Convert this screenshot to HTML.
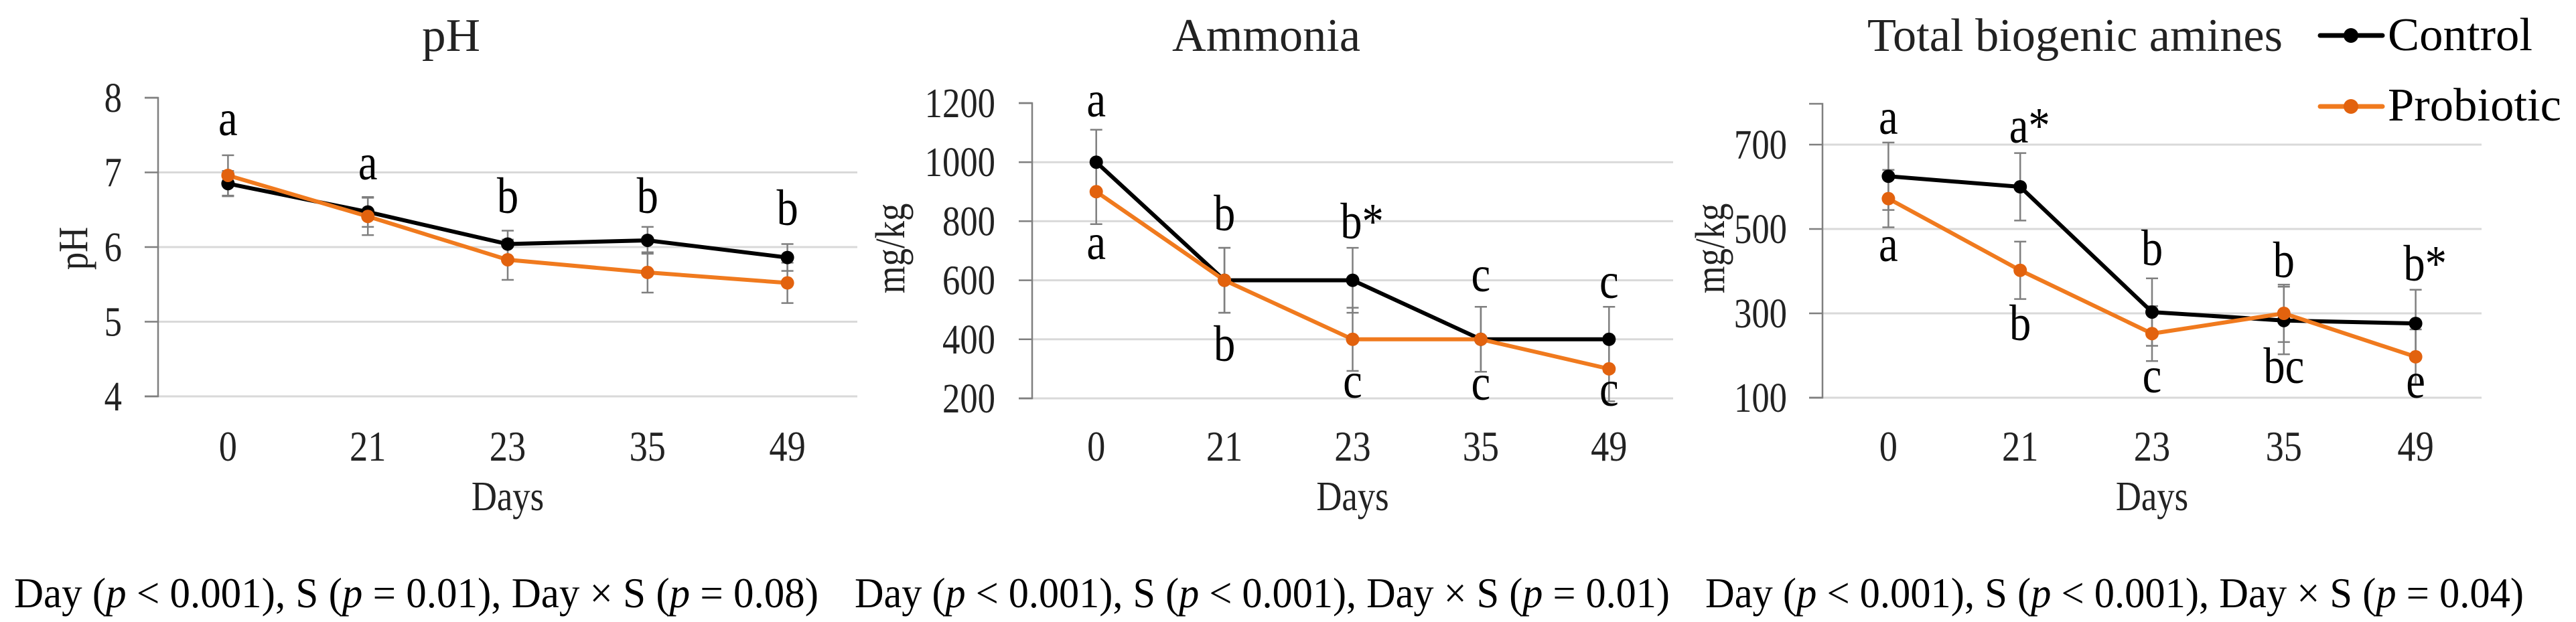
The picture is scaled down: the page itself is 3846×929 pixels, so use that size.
<!DOCTYPE html>
<html><head><meta charset="utf-8"><style>
html,body{margin:0;padding:0;background:#fff;}
svg{display:block;font-family:"Liberation Serif","Times New Roman",serif;}
</style></head><body>
<svg id="fig" width="3846" height="929" viewBox="0 0 3846 929" xmlns="http://www.w3.org/2000/svg"></svg>
<script>
const days = ["0","21","23","35","49"];
// pH
const phControl = [6.85, 6.47, 6.04, 6.09, 5.86];
const phProbiotic = [6.96, 6.41, 5.83, 5.66, 5.52];
const phControlErr = [0.17, 0.2, 0.18, 0.18, 0.18];
const phProbioticErr = [0.27, 0.25, 0.27, 0.27, 0.27];
const phTicks = [4,5,6,7,8];
const phLettersTop = ["a","a","b","b","b"];
const phLettersBottom = ["","","","",""];
// Ammonia
const amControl = [1000, 600, 600, 400, 400];
const amProbiotic = [900, 600, 400, 400, 300];
const amControlErr = [110, 110, 110, 110, 110];
const amProbioticErr = [110, 110, 107, 110, 110];
const amTicks = [200,400,600,800,1000,1200];
const amLettersTop = ["a","b","b*","c","c"];
const amLettersBottom = ["a","b","c","c","c"];
// Total biogenic amines
const baControl = [625, 600, 303, 283, 276];
const baProbiotic = [572, 402, 252, 300, 197];
const baControlErr = [80, 80, 80, 80, 80];
const baProbioticErr = [68, 68, 65, 68, 65];
const baTicks = [100,300,500,700];
const baLettersTop = ["a","a*","b","b","b*"];
const baLettersBottom = ["a","b","c","bc","e"];

const NS="http://www.w3.org/2000/svg";
const svg=document.getElementById('fig');
const ORANGE="#F07A1E", ORANGE_M="#E2620E";
function mk(tag,attrs,parent){const e=document.createElementNS(NS,tag);for(const k in attrs)e.setAttribute(k,attrs[k]);(parent||svg).appendChild(e);return e;}
// condensed text helper
function ctext(s,x,y,size,anchor,sx,parent,extra){
  const a={x:0,y:0,"font-size":size,fill:"#000","text-anchor":anchor||"start",transform:`translate(${x},${y}) scale(${sx},1)`};
  if(extra) for(const k in extra) a[k]=extra[k];
  const e=mk('text',a,parent);e.textContent=s;return e;
}

function panel(cfg){
  const g=mk('g',{});
  
  
  const y=v=>cfg.y0+(v-cfg.vmin)/(cfg.vmax-cfg.vmin)*(cfg.y1-cfg.y0);
  const bw=(cfg.xr-cfg.xl)/days.length;
  const x=i=>cfg.xl+bw*(i+0.5);
  cfg.ticks.forEach(t=>{
    if(t===cfg.vmin || t>cfg.gridMax) return;
    const l=mk('line',{x1:cfg.xl,x2:cfg.xr,y1:y(t),y2:y(t),stroke:"#d9d9d9","stroke-width":3},g);
    
    
  });
  const base=mk('line',{x1:cfg.xl-20,x2:cfg.xr,y1:y(cfg.vmin),y2:y(cfg.vmin),stroke:"#d9d9d9","stroke-width":3},g);
  
  
  const ax=mk('path',{d:`M${cfg.xl-20} ${cfg.axTop}H${cfg.xl}V${y(cfg.vmin)}H${cfg.xl-20}`,fill:"none",stroke:"#7f7f7f","stroke-width":2.5},g);
  
  
  cfg.ticks.forEach(t=>{
    const tk=mk('line',{x1:cfg.xl-20,x2:cfg.xl,y1:y(t),y2:y(t),stroke:"#7f7f7f","stroke-width":2.5},g);
    
    
    const lb=ctext(String(t),cfg.tickRight,y(t)+21,62,"end",0.85,g,{fill:"#222"});
    
    
  });
  days.forEach((d,i)=>{
    const lb=ctext(d,x(i),688,64,"middle",0.85,g,{fill:"#222"});
    
    
  });
  const xt=ctext("Days",(cfg.xl+cfg.xr)/2,762,62,"middle",0.85,g,{fill:"#222"});
  
  
  const yt=mk('text',{x:0,y:0,"text-anchor":"middle","font-size":62,fill:"#222",transform:`translate(${cfg.ytX},371) rotate(-90) scale(0.85,1)`},g);
  yt.textContent=cfg.ytitle;
  
  
  const tt=mk('text',{x:cfg.titleX0,y:76,"font-size":70,fill:"#222",textLength:cfg.titleX1-cfg.titleX0,lengthAdjust:"spacingAndGlyphs"},g);
  tt.textContent=cfg.title;
  
  
  const series=[
    {vals:cfg.ctrl,err:cfg.ctrlErr,color:"#000",mcol:"#000",name:"control"},
    {vals:cfg.prob,err:cfg.probErr,color:ORANGE,mcol:ORANGE_M,name:"probiotic"}
  ];
  series.forEach(s=>{
    s.err.forEach((e,i)=>{
      const p=mk('path',{d:`M${x(i)} ${y(s.vals[i]+e)}V${y(s.vals[i]-e)}M${x(i)-9} ${y(s.vals[i]+e)}h18M${x(i)-9} ${y(s.vals[i]-e)}h18`,stroke:"#7f7f7f","stroke-width":2.5,fill:"none"},g);
      
      
    });
  });
  series.forEach(s=>{
    const pl=mk('polyline',{points:s.vals.map((v,i)=>x(i)+','+y(v)).join(' '),fill:"none",stroke:s.color,"stroke-width":6,"stroke-linejoin":"round"},g);
    
    
    s.vals.forEach((v,i)=>{
      const c=mk('circle',{cx:x(i),cy:y(v),r:10,fill:s.mcol},g);
      
      
    });
  });
  cfg.topL.forEach((l,i)=>{
    if(!l) return;
    const t=ctext(l,x(i)+(l.length>1?14:0),cfg.topY[i],76,"middle",0.85,g);
    
    
  });
  cfg.botL.forEach((l,i)=>{
    if(!l) return;
    const t=ctext(l,x(i),cfg.botY[i],76,"middle",0.85,g);
    
    
  });
}

panel({name:'ph-chart',title:'pH',titleX0:630,titleX1:717,ytitle:'pH',ytX:130,xl:236,xr:1280,y0:592,y1:146,vmin:4,vmax:8,axTop:146,gridMax:7,tickRight:182,
  ticks:phTicks,ctrl:phControl,prob:phProbiotic,ctrlErr:phControlErr,probErr:phProbioticErr,
  topL:phLettersTop,botL:phLettersBottom,topY:[202,268,318,318,336],botY:[0,0,0,0,0]});
panel({name:'ammonia-chart',title:'Ammonia',titleX0:1750,titleX1:2031,ytitle:'mg/kg',ytX:1350,xl:1541,xr:2498,y0:595,y1:154,vmin:200,vmax:1200,axTop:154,gridMax:1000,tickRight:1486,
  ticks:amTicks,ctrl:amControl,prob:amProbiotic,ctrlErr:amControlErr,probErr:amProbioticErr,
  topL:amLettersTop,botL:amLettersBottom,topY:[174,344,356,435,445],botY:[387,539,594,597,606]});
panel({name:'biogenic-amines-chart',title:'Total biogenic amines',titleX0:2788,titleX1:3408,ytitle:'mg/kg',ytX:2574,xl:2721,xr:3705,y0:594,y1:216,vmin:100,vmax:700,axTop:155,gridMax:700,tickRight:2668,
  ticks:baTicks,ctrl:baControl,prob:baProbiotic,ctrlErr:baControlErr,probErr:baProbioticErr,
  topL:baLettersTop,botL:baLettersBottom,topY:[200,213,396,414,419],botY:[390,508,586,572,594]});

// legend
const lg=mk('g',{});


[[53,75,"#000","#000","Control",3781],[159,180,ORANGE,ORANGE_M,"Probiotic",3824]].forEach(([ly,ty,col,mc,label,xe])=>{
  const e=mk('g',{},lg);
  
  
  mk('line',{x1:3464,x2:3557,y1:ly,y2:ly,stroke:col,"stroke-width":7,"stroke-linecap":"round"},e);
  mk('circle',{cx:3510,cy:ly,r:11,fill:mc},e);
  const t=mk('text',{x:3565,y:ty,"font-size":70,fill:"#000",textLength:xe-3565,lengthAdjust:"spacingAndGlyphs"},e);
  t.textContent=label;
});

function caption(x,end,parts,name){
  const t=mk('text',{x:x,y:907,"font-size":64,fill:"#000",textLength:end-x,lengthAdjust:"spacingAndGlyphs"});
  
  
  parts.forEach(p=>{const s=mk('tspan',p[1]?{"font-style":"italic"}:{},t);s.textContent=p[0];});
}
function parts(a,b,c){return [["Day ("],["p",1],[" "+a+"), S ("],["p",1],[" "+b+"), Day × S ("],["p",1],[" "+c+")"]];}
caption(21,1222,parts("< 0.001","= 0.01","= 0.08"),'ph-stats-caption');
caption(1276,2493,parts("< 0.001","< 0.001","= 0.01"),'ammonia-stats-caption');
caption(2546,3768,parts("< 0.001","< 0.001","= 0.04"),'amines-stats-caption');
</script>
</body></html>
